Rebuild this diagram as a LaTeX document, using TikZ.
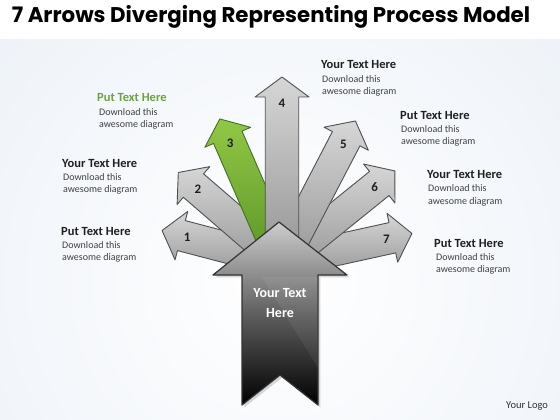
\documentclass[tikz,border=0pt]{standalone}
\usepackage{fontspec}
\setmainfont{Carlito}
\newfontfamily\titlefont{Poppins}
\usetikzlibrary{positioning, shadows}

\definecolor{bgblue}{RGB}{226,234,244}
\definecolor{arrowlight}{RGB}{214,214,214}
\definecolor{arrowdark}{RGB}{152,152,152}
\definecolor{arrowedge}{RGB}{80,80,80}
\definecolor{greenlight}{RGB}{146,200,70}
\definecolor{greendark}{RGB}{92,150,40}
\definecolor{greenedge}{RGB}{70,110,40}
\definecolor{greentext}{RGB}{107,163,60}

% one arrow of the fan: [extra], angle, length, style, number
\newcommand{\fanarrow}[5][]{%
  \begin{scope}[shift={(282,262)}, rotate=#2, #1]
    \draw[#4] (10,-15.5) -- (#3-20,-15.5) -- (#3-20,-25) -- (#3,0) -- (#3-20,25) -- (#3-20,15.5) -- (10,15.5) -- cycle;
    \node[numlabel] (n#5) at (#3-26,0) {#5};
  \end{scope}}

\begin{document}
\begin{tikzpicture}[x=1pt, y=-1pt,
    heading/.style={anchor=base west, inner sep=0pt, font=\bfseries\fontsize{12.5}{14}\selectfont, text=black!88},
    bodytext/.style={inner sep=0pt, align=left, font=\fontsize{10}{12.5}\selectfont, text=black!75},
    numlabel/.style={inner sep=0pt, font=\bfseries\fontsize{13}{13}\selectfont, text=black!88},
    grayarr/.style={draw=arrowedge, line width=0.9pt, line join=round, top color=arrowlight, bottom color=arrowdark},
    greenarr/.style={draw=greenedge, line width=0.9pt, line join=round, top color=greenlight, bottom color=greendark},
    bigarr/.style={draw=black!80, line width=1.2pt, line join=round, top color={rgb,255:red,205;green,205;blue,205}, bottom color=black, middle color={rgb,255:red,95;green,95;blue,95}, drop shadow={opacity=.3}}]
  \useasboundingbox (0,0) rectangle (560,420);
  \fill[white] (0,0) rectangle (560,420);
  \begin{scope}
    \clip (0,40) rectangle (560,420);
    \shade[inner color=white, outer color=bgblue] (280,280) circle (640);
  \end{scope}

  \node[anchor=base, font=\titlefont\bfseries\fontsize{21.3}{22}\selectfont] (title) at (271,23) {7 Arrows Diverging Representing Process Model};

  % the fan
  \fanarrow{165.3}{124}{grayarr}{1}
  \fanarrow{12.4}{133}{grayarr}{7}
  \fanarrow{139.2}{137}{grayarr}{2}
  \fanarrow{38.9}{145}{grayarr}{6}
  \fanarrow{113.5}{156}{greenarr}{3}
  \fanarrow{62.5}{159}{grayarr}{5}
  \fanarrow[yscale=1.08]{90}{185}{grayarr}{4}

  % big arrow
  \draw[bigarr] (279,222) -- (347,275) -- (318,275) -- (318,405) -- (280,375) -- (242,405) -- (242,275) -- (213,275) -- cycle;
  \fill[white, opacity=.06] (262,277) -- (318,277) -- (318,368) -- cycle;
  \node[align=center, text=white, font=\bfseries\fontsize{14}{20}\selectfont] (main) at (280,303) {Your Text\\Here};

  % texts
  \node[heading] (h1) at (61,235) {Put Text Here};
  \node[bodytext, below=6pt of h1.base west, anchor=north west, xshift=1pt] (b1) {Download this\\awesome diagram};
  \node[heading] (h2) at (62,167) {Your Text Here};
  \node[bodytext, below=6pt of h2.base west, anchor=north west, xshift=1pt] (b2) {Download this\\awesome diagram};
  \node[heading, text=greentext] (h3) at (97,102) {Put Text Here};
  \node[bodytext, below=6pt of h3.base west, anchor=north west, xshift=2pt] (b3) {Download this\\awesome diagram};
  \node[heading] (h4) at (321,69) {Your Text Here};
  \node[bodytext, below=6pt of h4.base west, anchor=north west, xshift=1pt] (b4) {Download this\\awesome diagram};
  \node[heading] (h5) at (400,119) {Put Text Here};
  \node[bodytext, below=6pt of h5.base west, anchor=north west, xshift=1pt] (b5) {Download this\\awesome diagram};
  \node[heading] (h6) at (427,178.5) {Your Text Here};
  \node[bodytext, below=6pt of h6.base west, anchor=north west, xshift=1pt] (b6) {Download this\\awesome diagram};
  \node[heading] (h7) at (434,247) {Put Text Here};
  \node[bodytext, below=6pt of h7.base west, anchor=north west, xshift=2pt] (b7) {Download this\\awesome diagram};

  \node[anchor=base west, inner sep=0pt, font=\fontsize{10.5}{12}\selectfont, text=black!80] (logo) at (506,408) {Your Logo};
\end{tikzpicture}
\end{document}
